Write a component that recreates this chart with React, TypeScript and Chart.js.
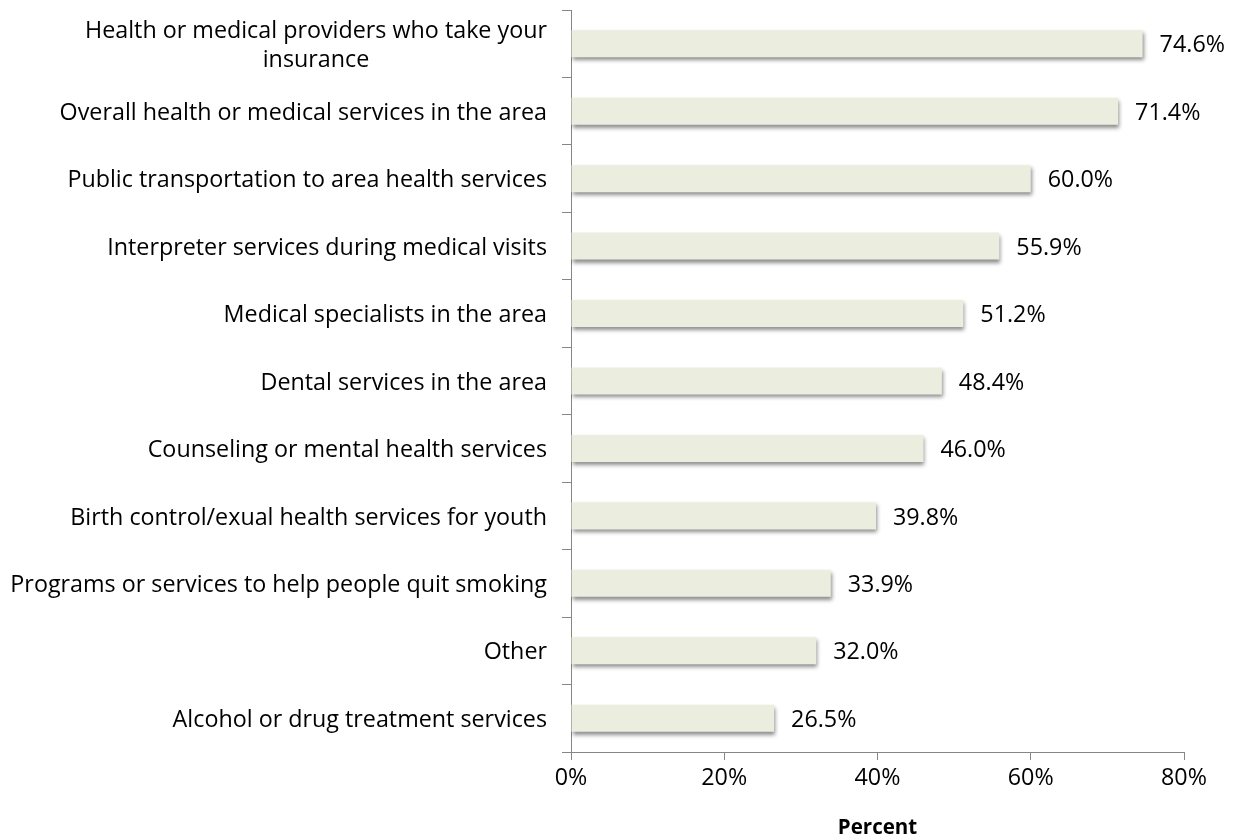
import React, { useEffect, useRef } from "react";
import { Chart, registerables } from "chart.js";

Chart.register(...registerables);

const categories: string[][] = [
  ["Health or medical providers who take your", "insurance"],
  ["Overall health or medical services in the area"],
  ["Public transportation to area health services"],
  ["Interpreter services during medical visits"],
  ["Medical specialists in the area"],
  ["Dental services in the area"],
  ["Counseling or mental health services"],
  ["Birth control/exual health services for youth"],
  ["Programs or services to help people quit smoking"],
  ["Other"],
  ["Alcohol or drug treatment services"],
];
const values: number[] = [74.6, 71.4, 60.0, 55.9, 51.2, 48.4, 46.0, 39.8, 33.9, 32.0, 26.5];
const xTicks: number[] = [0, 20, 40, 60, 80];
const axisTitle = "Percent";

const FONT = "'Open Sans', sans-serif";
const FONT_SIZE = 23.3;

export default function App() {
  const ref = useRef<HTMLCanvasElement>(null);
  useEffect(() => {
    if (!ref.current) return;
    const shadowPlugin = {
      id: "barShadow",
      beforeDatasetsDraw(chart: any) {
        const ctx = chart.ctx;
        ctx.save();
        ctx.shadowColor = "rgba(0,0,0,0.45)";
        ctx.shadowBlur = 4;
        ctx.shadowOffsetX = 1;
        ctx.shadowOffsetY = 3;
      },
      afterDatasetsDraw(chart: any) {
        chart.ctx.restore();
      },
    };
    const labelsPlugin = {
      id: "customLabels",
      afterDraw(chart: any) {
        const ctx = chart.ctx;
        const y = chart.scales.y;
        const meta = chart.getDatasetMeta(0);
        ctx.save();
        ctx.fillStyle = "#000";
        ctx.font = `${FONT_SIZE}px ${FONT}`;
        ctx.textBaseline = "middle";
        const rightX = chart.chartArea.left - 24;
        categories.forEach((lines, i) => {
          const cy = y.getPixelForValue(i) + 2;
          if (lines.length === 1) {
            ctx.textAlign = "right";
            ctx.fillText(lines[0], rightX, cy);
          } else {
            const w0 = ctx.measureText(lines[0]).width;
            const cx = rightX - w0 / 2;
            ctx.textAlign = "center";
            const lh = 29;
            lines.forEach((ln, k) => {
              ctx.fillText(ln, cx, cy + (k - (lines.length - 1) / 2) * lh);
            });
          }
          const bar = meta.data[i];
          ctx.textAlign = "left";
          ctx.fillText(values[i].toFixed(1) + "%", bar.x + 17, cy);
        });
        ctx.restore();
      },
    };
    const chart = new Chart(ref.current, {
      type: "bar",
      data: {
        labels: categories.map((c) => c.join(" ")),
        datasets: [
          {
            data: values,
            backgroundColor: "#EBEEDF",
            borderWidth: 0,
            barPercentage: 0.4,
            categoryPercentage: 1,
          },
        ],
      },
      options: {
        indexAxis: "y",
        animation: false,
        responsive: false,
        maintainAspectRatio: false,
        layout: { padding: { top: 10, right: 51, left: 0, bottom: 0 } },
        plugins: {
          legend: { display: false },
          tooltip: { enabled: false },
        },
        scales: {
          y: {
            type: "category",
            offset: true,
            afterFit: (s: any) => {
              s.width = 571;
            },
            grid: {
              offset: true,
              drawOnChartArea: false,
              drawTicks: true,
              tickLength: 9,
              color: "#868686",
              lineWidth: 1,
            },
            border: { display: true, color: "#868686", width: 1 },
            ticks: { display: false },
          },
          x: {
            type: "linear",
            min: 0,
            max: 80,
            afterBuildTicks: (s: any) => {
              s.ticks = xTicks.map((v) => ({ value: v }));
            },
            afterFit: (s: any) => {
              s.height = 88;
            },
            grid: {
              drawOnChartArea: false,
              drawTicks: true,
              tickLength: 8,
              color: "#868686",
              lineWidth: 1,
            },
            border: { display: true, color: "#868686", width: 1 },
            ticks: {
              color: "#000",
              font: { family: FONT, size: FONT_SIZE },
              padding: 4,
              callback: (v: any) => v + "%",
            },
            title: {
              display: true,
              text: axisTitle,
              color: "#000",
              font: { family: FONT, size: 20.5, weight: "bold" },
              padding: { top: 0, bottom: 0 },
            },
          },
        },
      },
      plugins: [shadowPlugin, labelsPlugin],
    } as any);
    return () => chart.destroy();
  }, []);
  return (
    <div style={{ position: "absolute", left: 0, top: 0, width: 1235, height: 840, background: "#fff" }}>
      <canvas ref={ref} width={1235} height={840} style={{ width: 1235, height: 840 }} />
    </div>
  );
}
